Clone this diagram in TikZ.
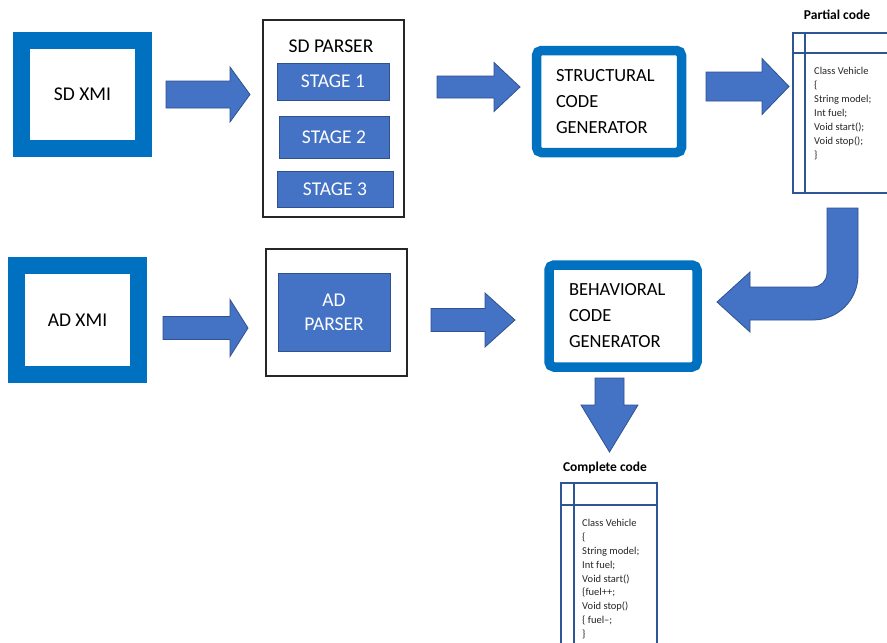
\documentclass[tikz,border=0pt]{standalone}
\usepackage{fontspec}
\setmainfont{Carlito}
\definecolor{xmiblue}{HTML}{0070C0}
\definecolor{fillblue}{HTML}{4472C4}
\definecolor{edgeblue}{HTML}{2F528F}
\definecolor{codeblue}{HTML}{2F5597}

% right-pointing block arrow: tail x, head-start x, tip x, centre y, body half-height, head half-height
\newcommand\rblock[6]{%
  \filldraw[blockarrow] (#1,{#4-#5}) -- (#2,{#4-#5}) -- (#2,{#4-#6}) -- (#3,#4)
    -- (#2,{#4+#6}) -- (#2,{#4+#5}) -- (#1,{#4+#5}) -- cycle;}

\begin{document}
\begin{tikzpicture}[x=1pt,y=-1pt,
  bigfont/.style={font=\fontsize{18.5}{26}\selectfont},
  labelfont/.style={font=\fontsize{19.5}{25}\selectfont},
  xmibox/.style={draw=xmiblue, line width=17pt, fill=white, inner sep=0pt, labelfont},
  genbox/.style={draw=xmiblue, line width=9.5pt, fill=white, rounded corners=5pt,
    align=left, bigfont, inner ysep=0pt},
  parserbox/.style={draw=black!85, line width=1.4pt, fill=white, inner sep=0pt},
  stagebox/.style={draw=edgeblue, line width=0.8pt, fill=fillblue, text=white,
    inner sep=0pt, labelfont, align=center},
  blockarrow/.style={fill=fillblue, draw=edgeblue, line width=0.8pt, line join=miter},
  codeline/.style={draw=codeblue, line width=1.3pt},
  codetext/.style={font=\fontsize{10.5}{13.9}\selectfont, align=left, inner sep=0pt,
    anchor=north west, text=black!85},
  title/.style={font=\fontsize{13.5}{16}\selectfont\bfseries}
]
\useasboundingbox (0,0) rectangle (887,643);
\fill[white] (0,0) rectangle (887,643);

% ---- top row: sequence diagram path ----
\node[xmibox, minimum width=122pt, minimum height=108pt] (sdxmi) at (82.5,94.5) {SD XMI};

\node[parserbox, minimum width=141pt, minimum height=197pt] (sdparser) at (333.5,118.5) {};
\node[labelfont] (sdtitle) at (331,46) {SD PARSER};
\node[stagebox, minimum width=112pt, minimum height=37pt] (stage1) at (333,81.5) {STAGE 1};
\node[stagebox, minimum width=110pt, minimum height=42pt] (stage2) at (334,137) {STAGE 2};
\node[stagebox, minimum width=116pt, minimum height=36pt] (stage3) at (335,189) {STAGE 3};

\node[genbox, minimum width=145pt, minimum height=102pt, inner xsep=19.5pt, text width=106pt]
  (structural) at (609,101.5) {STRUCTURAL\\CODE\\GENERATOR};

% partial code listing (runs past the right edge)
\node[title] (partialtitle) at (837,15) {Partial code};
\draw[codeline] (887,33) -- (793,33) -- (793,193) -- (887,193);
\draw[codeline] (805,33) -- (805,193);
\draw[codeline] (793,53) -- (887,53);
\node[codetext] (partialcode) at (814,67.5) {Class Vehicle\\\{\\String model;\\Int fuel;\\Void start();\\Void stop();\\\}};

\rblock{166}{230}{250}{94.5}{13.5}{27.5}
\rblock{437}{494}{520}{87}{11}{24.5}
\rblock{706}{762}{789}{86.5}{14.5}{28}

% ---- middle row: activity diagram path ----
\node[xmibox, minimum width=122pt, minimum height=108.5pt] (adxmi) at (77.5,319.75) {AD XMI};

\node[parserbox, minimum width=141pt, minimum height=127pt] (adparser) at (336.5,312.5) {};
\node[stagebox, minimum width=112pt, minimum height=78pt] (adinner) at (334,312) {AD\\[-1pt]PARSER};

\node[genbox, minimum width=148pt, minimum height=102pt, inner xsep=20pt, text width=108pt]
  (behavioral) at (623,316) {BEHAVIORAL\\CODE\\GENERATOR};

\rblock{163}{230}{248}{328}{11.5}{28.5}
\rblock{431}{485}{515}{320}{11.5}{27}

% bent arrow from the partial code down into the behavioral generator
\filldraw[blockarrow] (827,208) -- (858,208) -- (858,275)
  .. controls (858,300) and (838,320) .. (813,320)
  -- (750,320) -- (750,332) -- (717,302) -- (750,272) -- (750,287) -- (813,287)
  .. controls (820.7,287) and (827,280.7) .. (827,273) -- cycle;

% down arrow to the complete code
\filldraw[blockarrow] (595,378) -- (624,378) -- (624,405) -- (638,405) -- (609.5,452)
  -- (581,405) -- (595,405) -- cycle;

% complete code listing (runs past the bottom edge)
\node[title] (completetitle) at (605,468) {Complete code};
\draw[codeline] (561,643) -- (561,483) -- (657,483) -- (657,643);
\draw[codeline] (574,483) -- (574,643);
\draw[codeline] (561,505) -- (657,505);
\node[codetext] (completecode) at (582,519) {Class Vehicle\\\{\\String model;\\Int fuel;\\Void start()\\\{fuel++;\\Void stop()\\\{ fuel--;\\\}};
\end{tikzpicture}
\end{document}
